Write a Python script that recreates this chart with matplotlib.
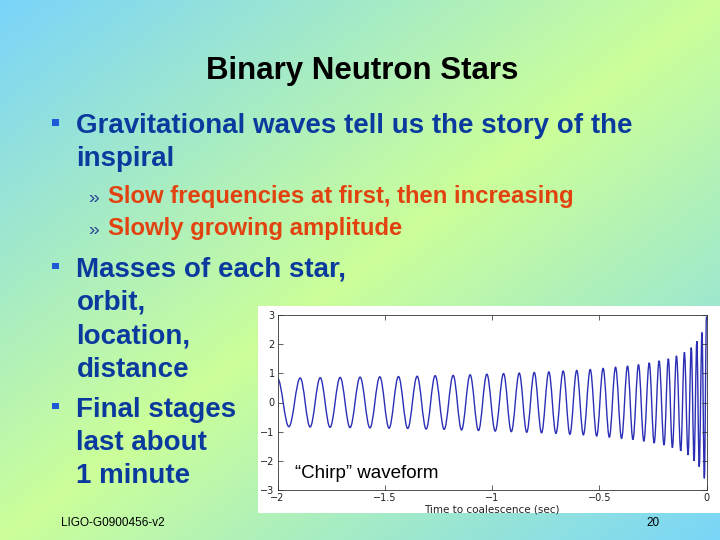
import numpy as np
import matplotlib
matplotlib.use("Agg")
import matplotlib.pyplot as plt
from matplotlib.colors import LinearSegmentedColormap
from matplotlib.patches import Rectangle, PathPatch
from matplotlib.path import Path

############################
#% DATA
############################
# chirp extrema: time to coalescence (sec) and strain amplitude
peak_t = [-2.000, -1.894, -1.801, -1.708, -1.615, -1.523, -1.436, -1.349,
          -1.265, -1.181, -1.102, -1.024, -0.946, -0.873, -0.803, -0.735,
          -0.668, -0.605, -0.542, -0.482, -0.424, -0.368, -0.317, -0.267,
          -0.221, -0.178, -0.140, -0.103, -0.071, -0.045, -0.021, 0.000]
peak_a = [0.83, 0.84, 0.85, 0.86, 0.87, 0.88, 0.89, 0.90,
          0.92, 0.93, 0.95, 0.97, 0.99, 1.01, 1.03, 1.05,
          1.08, 1.10, 1.13, 1.17, 1.21, 1.25, 1.30, 1.36,
          1.43, 1.50, 1.60, 1.72, 1.88, 2.10, 2.40, 2.95]
trough_t = [-1.947, -1.848, -1.755, -1.662, -1.569, -1.480, -1.393, -1.307,
            -1.223, -1.142, -1.063, -0.985, -0.910, -0.838, -0.769, -0.702,
            -0.637, -0.574, -0.512, -0.453, -0.396, -0.343, -0.292, -0.244,
            -0.198, -0.159, -0.120, -0.086, -0.058, -0.034, -0.010]
trough_a = [-0.83, -0.84, -0.85, -0.86, -0.87, -0.88, -0.89, -0.91,
            -0.92, -0.94, -0.96, -0.98, -1.00, -1.02, -1.04, -1.06,
            -1.09, -1.11, -1.15, -1.19, -1.23, -1.27, -1.33, -1.39,
            -1.46, -1.55, -1.66, -1.80, -2.00, -2.20, -2.60]

xticks = [-2, -1.5, -1, -0.5, 0]
xtick_labels = ["\u22122", "\u22121.5", "\u22121", "\u22120.5", "0"]
yticks = [-3, -2, -1, 0, 1, 2, 3]
ytick_labels = ["\u22123", "\u22122", "\u22121", "0", "1", "2", "3"]

title = "Binary Neutron Stars"
bullet1 = ["Gravitational waves tell us the story of the", "inspiral"]
subbullets = ["Slow frequencies at first, then increasing",
              "Slowly growing amplitude"]
bullet2 = ["Masses of each star,", "orbit,", "location,", "distance"]
bullet3 = ["Final stages", "last about", "1 minute"]
footer = "LIGO-G0900456-v2"
page = "20"

############################
#% STYLE
############################
W, H = 720, 540
FONT = ["Liberation Sans", "DejaVu Sans"]
BLUE_TXT = "#0b3a9e"
ORANGE = "#e2420f"
BULLET_BLUE = "#1f5ad6"

fig = plt.figure(figsize=(7.2, 5.4), dpi=100)

# background gradient: blue -> yellow-green -> blue along the diagonal
bg = fig.add_axes([0, 0, 1, 1], zorder=0)
gx, gy = np.meshgrid(np.linspace(0, 1, 360), np.linspace(0, 1, 270))
s = (gx + gy) / 2
cmap = LinearSegmentedColormap.from_list("slide", ["#7ad4fa", "#ccff99", "#7ad6f8"])
bg.imshow(s, cmap=cmap, aspect="auto", extent=[0, W, H, 0], vmin=0, vmax=1)
bg.set_xlim(0, W)
bg.set_ylim(H, 0)
bg.axis("off")


def put(x, y, txt, **kw):
    # x, y in slide pixels, y = baseline measured from top
    bg.text(x, y, txt, va="baseline", family=FONT, **kw)


put(362.5, 78.5, title, ha="center", fontsize=22.5, weight="bold", color="black")

line_h = 33.3
for i, ln in enumerate(bullet1):
    put(76.5, 132.7 + i * line_h, ln, fontsize=20, weight="bold", color=BLUE_TXT)
for i, ln in enumerate(subbullets):
    yb = 202.7 + i * 32.5
    put(88.5, yb, "\u00bb", fontsize=14, color="#2a4596")
    put(108.5, yb, ln, fontsize=17.2, weight="bold", color=ORANGE)
for i, ln in enumerate(bullet2):
    put(76.5, 276.7 + i * line_h, ln, fontsize=20, weight="bold", color=BLUE_TXT)
for i, ln in enumerate(bullet3):
    put(76.5, 416.7 + i * line_h, ln, fontsize=20, weight="bold", color=BLUE_TXT)

for yc in (122.7, 266.0, 406.0):
    bg.add_patch(Rectangle((51.8, yc - 3.4), 6.8, 6.8, color=BULLET_BLUE, lw=0))

put(61, 526, footer, fontsize=8.5, color="black")
put(646, 526, page, fontsize=8.5, color="black")

# white inset behind the waveform
bg.add_patch(Rectangle((258, 306), 462, 207, facecolor="white", edgecolor="none"))

############################
#% CHIRP WAVEFORM
############################
ax = fig.add_axes([277.5 / W, 1 - 490 / H, 429 / W, 175 / H], zorder=2)
ax.set_facecolor("white")

ext_t = np.array(peak_t + trough_t)
ext_a = np.array(peak_a + trough_a)
order = np.argsort(ext_t)
ext_t, ext_a = ext_t[order], ext_a[order]

# cubic bezier through the extrema, flat tangents at every peak/trough
k = 0.3642
verts = [(ext_t[0], ext_a[0])]
codes = [Path.MOVETO]
for (t0, a0), (t1, a1) in zip(zip(ext_t[:-1], ext_a[:-1]), zip(ext_t[1:], ext_a[1:])):
    dt = t1 - t0
    verts += [(t0 + k * dt, a0), (t1 - k * dt, a1), (t1, a1)]
    codes += [Path.CURVE4] * 3
ax.add_patch(PathPatch(Path(verts, codes), facecolor="none",
                       edgecolor="#2b2fb5", lw=1.0))

ax.set_xlim(-2, 0)
ax.set_ylim(-3, 3)
ax.set_xticks(xticks)
ax.set_xticklabels(xtick_labels)
ax.set_yticks(yticks)
ax.set_yticklabels(ytick_labels)
ax.tick_params(direction="in", top=True, right=True, length=3.5, width=0.5,
               labelsize=7, pad=2, colors="#222222")
for sp in ax.spines.values():
    sp.set_linewidth(0.6)
    sp.set_color("#333333")
ax.set_xlabel("Time to coalescence (sec)", fontsize=7.5, labelpad=1, color="#222222")

ax.text(0.041, 0.067, "\u201cChirp\u201d waveform", transform=ax.transAxes,
        fontsize=13.5, family=FONT, va="baseline", ha="left", color="black")

fig.savefig("out.png", dpi=100)
